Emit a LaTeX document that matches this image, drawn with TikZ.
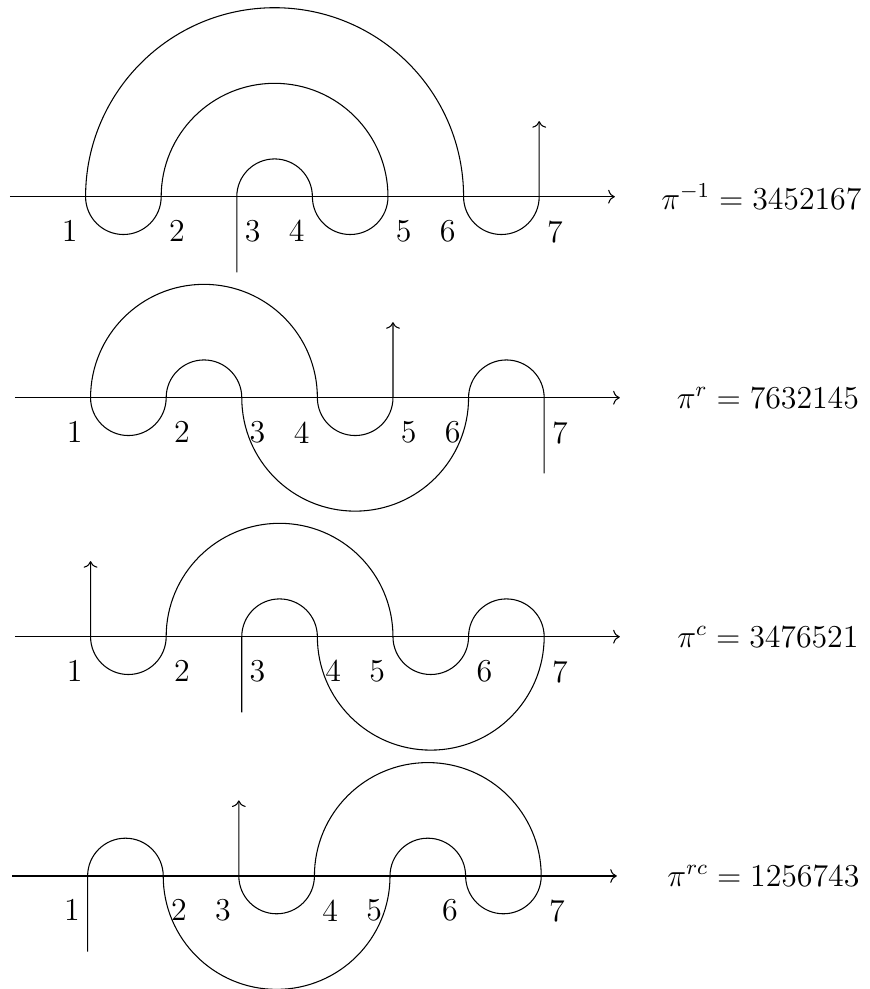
\documentclass[tikz,border=0pt]{standalone}
\usetikzlibrary{arrows.meta,positioning}

\begin{document}
\begin{tikzpicture}[
  axis/.style={->},
  meander/.style={->},
  num/.style={font=\large,inner xsep=2.8pt,inner ysep=3.33pt},
  perm/.style={font=\large,anchor=center}
]
  \useasboundingbox (0,0) rectangle (11.495,-13.082);

  % pi^{-1}
  \begin{scope}[shift={(0.132,-2.602)}]
    \coordinate (ia) at (0,0);
    \coordinate (ib) at (8,0);
    \draw[axis] (ia) -- (ib);
    \draw[meander] (3,-1) -- (3,0)
      arc[start angle=180,end angle=0,radius=0.5]
      arc[start angle=180,end angle=360,radius=0.5]
      arc[start angle=0,end angle=180,radius=1.5]
      arc[start angle=0,end angle=-180,radius=0.5]
      arc[start angle=180,end angle=0,radius=2.5]
      arc[start angle=180,end angle=360,radius=0.5]
      -- (7,1);
    \foreach \i/\a in {1/north east,2/north west,3/north west,4/north east,5/north west,6/north east,7/north west}
      \node[num,anchor=\a] (in\i) at (\i,-0.19) {\i};
    \node[perm] (iperm) at (9.94,0) {$\pi^{-1} = 3452167$};
  \end{scope}

  % pi^r
  \begin{scope}[shift={(0.198,-5.261)}]
    \coordinate (ra) at (0,0);
    \coordinate (rb) at (8,0);
    \draw[axis] (ra) -- (rb);
    \draw[meander] (7,-1) -- (7,0)
      arc[start angle=0,end angle=180,radius=0.5]
      arc[start angle=0,end angle=-180,radius=1.5]
      arc[start angle=0,end angle=180,radius=0.5]
      arc[start angle=0,end angle=-180,radius=0.5]
      arc[start angle=180,end angle=0,radius=1.5]
      arc[start angle=180,end angle=360,radius=0.5]
      -- (5,1);
    \foreach \i/\a in {1/north east,2/north west,3/north west,4/north east,5/north west,6/north east,7/north west}
      \node[num,anchor=\a] (rn\i) at (\i,-0.19) {\i};
    \node[perm] (rperm) at (9.96,0) {$\pi^{r} = 7632145$};
  \end{scope}

  % pi^c
  \begin{scope}[shift={(0.198,-8.422)}]
    \coordinate (ca) at (0,0);
    \coordinate (cb) at (8,0);
    \draw[axis] (ca) -- (cb);
    \draw[meander] (3,-1) -- (3,0)
      arc[start angle=180,end angle=0,radius=0.5]
      arc[start angle=180,end angle=360,radius=1.5]
      arc[start angle=0,end angle=180,radius=0.5]
      arc[start angle=0,end angle=-180,radius=0.5]
      arc[start angle=0,end angle=180,radius=1.5]
      arc[start angle=0,end angle=-180,radius=0.5]
      -- (1,1);
    \foreach \i/\a in {1/north east,2/north west,3/north west,4/north west,5/north east,6/north west,7/north west}
      \node[num,anchor=\a] (cn\i) at (\i,-0.19) {\i};
    \node[perm] (cperm) at (9.96,0) {$\pi^{c} = 3476521$};
  \end{scope}

  % pi^{rc}
  \begin{scope}[shift={(0.159,-11.587)}]
    \coordinate (rca) at (0,0);
    \coordinate (rcb) at (8,0);
    \draw[axis] (rca) -- (rcb);
    \draw[meander] (1,-1) -- (1,0)
      arc[start angle=180,end angle=0,radius=0.5]
      arc[start angle=180,end angle=360,radius=1.5]
      arc[start angle=180,end angle=0,radius=0.5]
      arc[start angle=180,end angle=360,radius=0.5]
      arc[start angle=0,end angle=180,radius=1.5]
      arc[start angle=0,end angle=-180,radius=0.5]
      -- (3,1);
    \foreach \i/\a in {1/north east,2/north west,3/north east,4/north west,5/north east,6/north east,7/north west}
      \node[num,anchor=\a] (rcn\i) at (\i,-0.19) {\i};
    \node[perm] (rcperm) at (9.94,0) {$\pi^{rc} = 1256743$};
  \end{scope}
\end{tikzpicture}
\end{document}
